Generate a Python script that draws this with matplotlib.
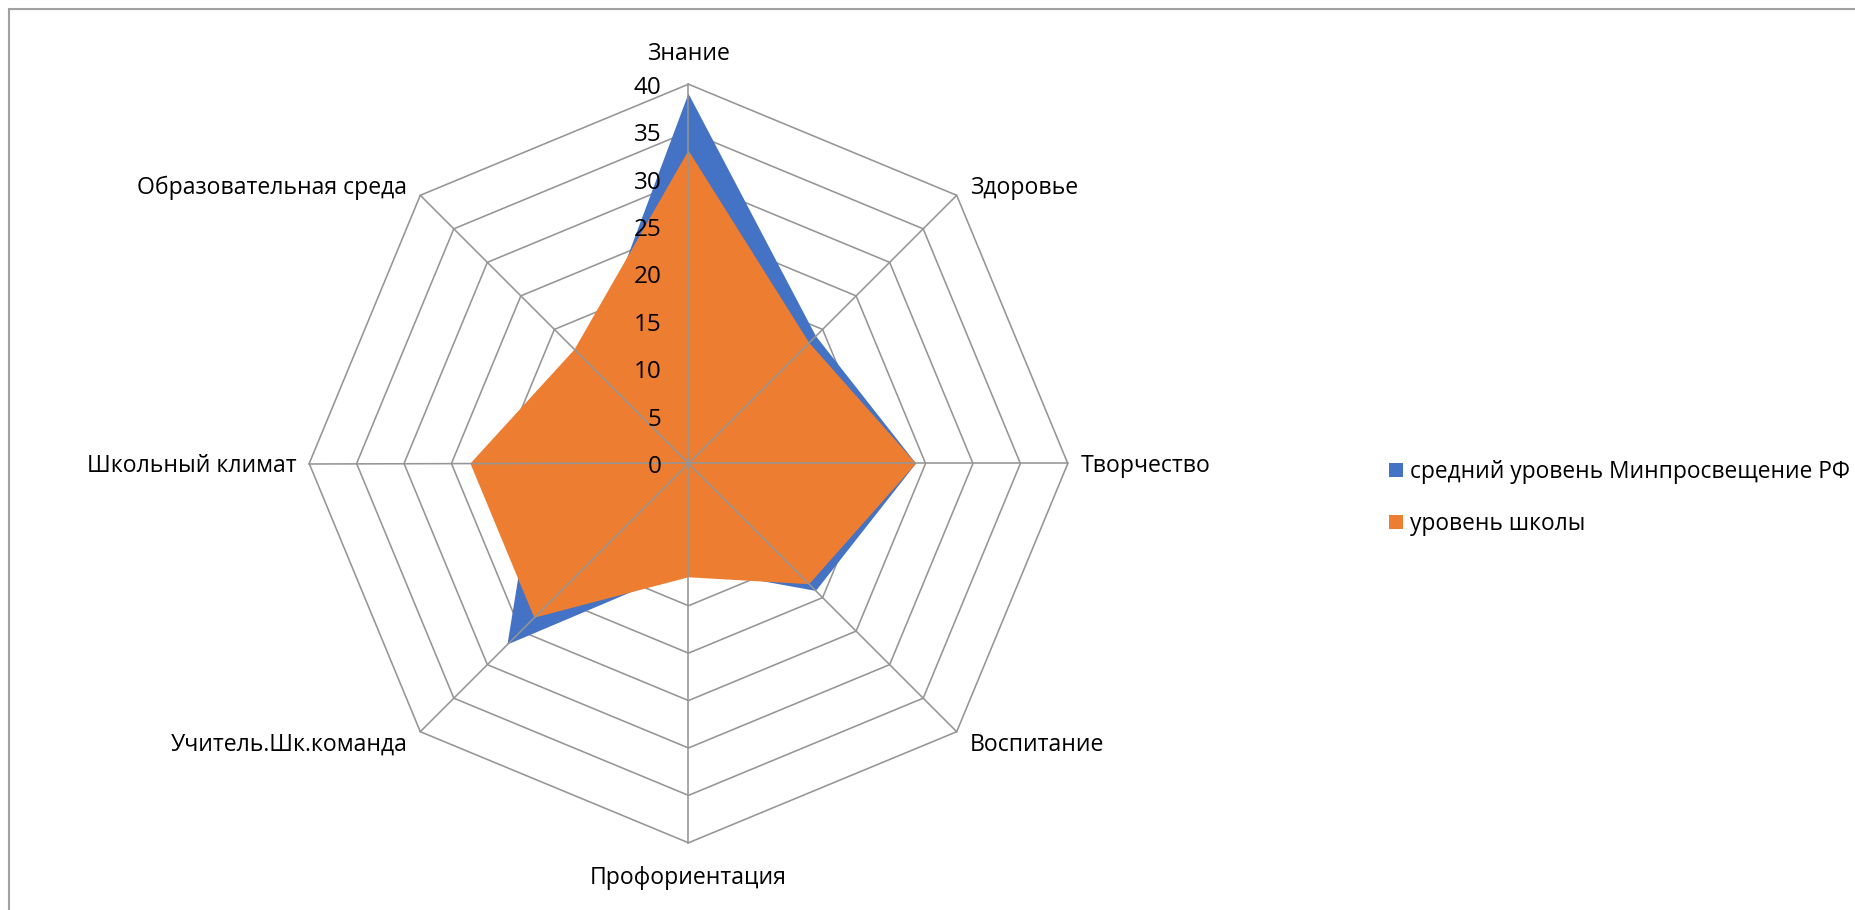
import numpy as np
import matplotlib
matplotlib.use('Agg')
import matplotlib.pyplot as plt
from matplotlib.patches import Patch, Rectangle

plt.rcParams['font.family'] = ['Open Sans', 'DejaVu Sans']

# Данные лепестковой диаграммы
categories = ['Знание', 'Здоровье', 'Творчество', 'Воспитание', 'Профориентация',
              'Учитель.Шк.команда', 'Школьный климат', 'Образовательная среда']
ministry = [39, 19, 24, 19, 11, 27, 16, 15]
school = [33, 18, 24, 18, 12, 23, 23, 17]
ticks = [0, 5, 10, 15, 20, 25, 30, 35, 40]
legend_labels = ['средний уровень Минпросвещение РФ', 'уровень школы']

blue = '#4472C4'
orange = '#ED7D31'
grid = '#959595'

W, H = 1856, 910
cx, cy = 688.5, 463.5          # центр в пикселях
k = 379.3 / 40                 # пикселей на единицу

fig = plt.figure(figsize=(W / 100, H / 100), dpi=100)
ax = fig.add_axes([0, 0, 1, 1])
ax.set_xlim(-cx / k, (W - cx) / k)
ax.set_ylim(-(H - cy) / k, cy / k)
ax.axis('off')

n = len(categories)
theta = np.arange(n) * 2 * np.pi / n
sx, sy = np.sin(theta), np.cos(theta)


def poly(vals):
    vals = np.asarray(vals, dtype=float)
    x = vals * sx
    y = vals * sy
    return np.append(x, x[0]), np.append(y, y[0])


# кольца сетки
for t in ticks[1:]:
    x, y = poly([t] * n)
    ax.plot(x, y, color=grid, lw=1.15, zorder=1)

# ряды
x, y = poly(ministry)
ax.fill(x, y, color=blue, lw=0, zorder=2)
x, y = poly(school)
ax.fill(x, y, color=orange, lw=0, zorder=3)

# лучи поверх заливки
rmax = ticks[-1]
for i in range(n):
    ax.plot([0, rmax * sx[i]], [0, rmax * sy[i]], color=grid, lw=1.15, zorder=4)

# подписи шкалы
for t in ticks:
    ax.text(-27 / k, t - 3.5 / k, str(t), ha='right', va='center', fontsize=17.5, zorder=5)

# подписи категорий
for i, name in enumerate(categories):
    px, py = rmax * sx[i], rmax * sy[i]
    if abs(sx[i]) < 1e-6:
        ha = 'center'
        dx = 0
        dy = 30.5 if sy[i] > 0 else -35
    else:
        ha = 'left' if sx[i] > 0 else 'right'
        dx = 13 if sx[i] > 0 else -13
        dy = 10 * np.sign(round(sy[i], 6)) - 3
    ax.text(px + dx / k, py + dy / k, name, ha=ha, va='center', fontsize=16.6)

# рамка области диаграммы
fig.add_artist(Rectangle((9 / W, -0.1), 1.2, 1.1 - 9 / H, transform=fig.transFigure,
                         fill=False, edgecolor='#A0A0A0', lw=1.5))

handles = [Patch(facecolor=blue), Patch(facecolor=orange)]
fig.legend(handles, legend_labels, loc='center left', bbox_to_anchor=(1378 / W, 1 - 498 / H),
           frameon=False, fontsize=16.4, handlelength=0.6, handleheight=0.6,
           handletextpad=0.3, labelspacing=1.25, borderpad=0)

fig.savefig('out.png', dpi=100)
